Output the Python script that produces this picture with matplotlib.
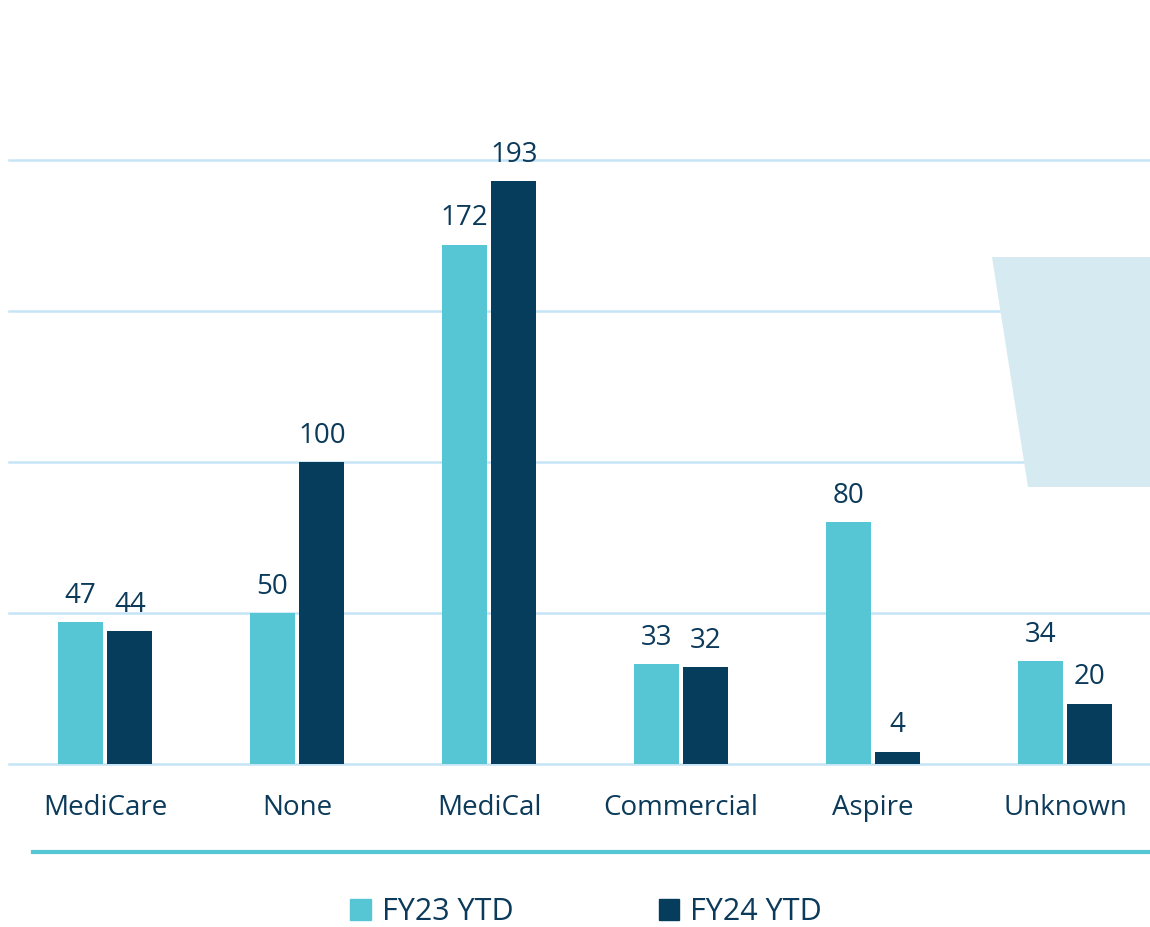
import matplotlib
matplotlib.use("Agg")
import matplotlib.pyplot as plt
from matplotlib.patches import Polygon, Rectangle
from matplotlib.lines import Line2D
import numpy as np

categories = ["MediCare", "None", "MediCal", "Commercial", "Aspire", "Unknown"]
fy23 = [47, 50, 172, 33, 80, 34]
fy24 = [44, 100, 193, 32, 4, 20]
series_names = ["FY23 YTD", "FY24 YTD"]

C_LIGHT = "#56c5d4"
C_DARK = "#063c5c"
TXT = "#0b3a5a"
GRID = "#c5e5f7"

plt.rcParams['font.family'] = ['Open Sans', 'DejaVu Sans']

W, H = 1150, 927
fig = plt.figure(figsize=(W/100, H/100), dpi=100)

# decorative trapezoid in figure coords
trap = Polygon([(992/W, 1-257/H), (1150/W, 1-257/H), (1150/W, 1-487/H), (1028/W, 1-487/H)],
               closed=True, transform=fig.transFigure, facecolor="#d6ebf1", edgecolor="none", zorder=0)
fig.patches.append(trap)

ax = fig.add_axes([9/W, 1-764/H, 1152/W, 764/H])
ax.patch.set_alpha(0)
x = np.arange(len(categories))
bw = 0.234
off = 0.129
b1 = ax.bar(x - off, fy23, bw, color=C_LIGHT, zorder=3)
b2 = ax.bar(x + off, fy24, bw, color=C_DARK, zorder=3)
ax.set_xlim(-0.5, len(categories) - 0.5)
ax.set_ylim(0, 253)
ax.set_yticks([0, 50, 100, 150, 200])
ax.yaxis.grid(True, color=GRID, linewidth=1.8, zorder=0)
ax.set_axisbelow(True)
for gl in ax.get_ygridlines():
    gl.set_clip_on(False)
ax.tick_params(axis='y', left=False, labelleft=False)
ax.tick_params(axis='x', bottom=False, labelsize=20, labelcolor=TXT, pad=18)
ax.set_xticks(x)
ax.set_xticklabels(categories)
for s in ax.spines.values():
    s.set_visible(False)

for bars, vals in ((b1, fy23), (b2, fy24)):
    for r, v in zip(bars, vals):
        ax.annotate(str(v), (r.get_x() + r.get_width()/2, v), xytext=(0, 9),
                    textcoords="offset points", ha="center", va="bottom",
                    fontsize=20, color=TXT)

# teal separator line
fig.add_artist(Line2D([33/W, 1150/W], [1-852/H, 1-852/H], color=C_LIGHT, linewidth=3, transform=fig.transFigure))

# legend
handles = [Rectangle((0, 0), 1, 1, color=C_LIGHT), Rectangle((0, 0), 1, 1, color=C_DARK)]
leg = fig.legend(handles, series_names, loc="center", bbox_to_anchor=(586/W, 1-912/H), ncol=2,
                 frameon=False, fontsize=22, handlelength=0.68, handleheight=0.68,
                 handletextpad=0.35, columnspacing=4.75, borderpad=0.1)
for t in leg.get_texts():
    t.set_color(TXT)

fig.savefig("out.png", dpi=100)
